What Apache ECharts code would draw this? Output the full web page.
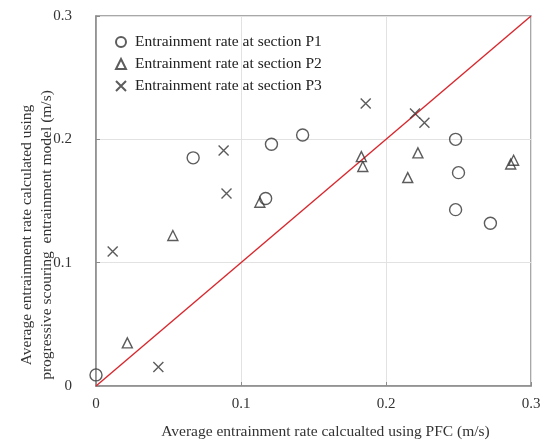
<!DOCTYPE html>
<html>
<head>
<meta charset="utf-8">
<script src="https://cdn.jsdelivr.net/npm/echarts@6/dist/echarts.min.js"></script>
<style>
  html, body { margin: 0; padding: 0; background: #fff; }
  #chart { width: 544px; height: 442px; }
</style>
</head>
<body>
<div id="chart"></div>
<script>
// Entrainment rate: PFC (x) vs progressive scouring model (y), m/s
const seriesNames = [
  'Entrainment rate at section P1',
  'Entrainment rate at section P2',
  'Entrainment rate at section P3'
];
const p1 = [
  [0.000, 0.009], [0.067, 0.185], [0.121, 0.196], [0.1425, 0.2035], [0.117, 0.152],
  [0.248, 0.200], [0.250, 0.173], [0.248, 0.143], [0.272, 0.132]
];
const p2 = [
  [0.0216, 0.035], [0.053, 0.122], [0.113, 0.149], [0.183, 0.186], [0.184, 0.178],
  [0.222, 0.189], [0.215, 0.169], [0.288, 0.183], [0.286, 0.180]
];
const p3 = [
  [0.043, 0.0155], [0.0115, 0.109], [0.088, 0.191], [0.090, 0.156],
  [0.186, 0.229], [0.220, 0.221], [0.2265, 0.2135]
];
const equalityLine = [[0, 0], [0.3, 0.3]];
const tickValues = [0, 0.1, 0.2, 0.3];

const serif = '"Liberation Serif", "Times New Roman", serif';
const ink = '#333';
const frame = '#8c8c8c';

const chart = echarts.init(document.getElementById('chart'), null, { renderer: 'canvas' });

const axisCommon = {
  type: 'value',
  min: tickValues[0],
  max: tickValues[tickValues.length - 1],
  interval: 0.1,
  axisLine: { show: true, lineStyle: { color: frame, width: 1.5 } },
  axisTick: { show: true, inside: true, length: 4, lineStyle: { color: frame } },
  splitLine: { show: true, lineStyle: { color: '#e2e2e2', width: 1 } },
  axisLabel: {
    color: '#333', fontFamily: serif, fontSize: 15,
    formatter: v => (v === 0 ? '0' : String(Math.round(v * 10) / 10))
  }
};

const hollow = { color: 'transparent', borderColor: ink, borderWidth: 1.4 };

chart.setOption({
  animation: false,
  backgroundColor: '#fff',
  grid: {
    left: 96, right: 13, top: 16, bottom: 56,
    containLabel: false, outerBoundsMode: 'none',
    show: true, borderColor: frame, borderWidth: 1.5
  },
  legend: {
    data: seriesNames,
    orient: 'vertical',
    left: 110,
    top: 29,
    itemGap: 6,
    itemWidth: 10,
    itemHeight: 10,
    textStyle: { color: '#222', fontFamily: serif, fontSize: 15.5, padding: [0, 0, 0, 4] }
  },
  xAxis: Object.assign({}, axisCommon, {
    name: 'Average entrainment rate calcualted using PFC (m/s)',
    nameLocation: 'middle',
    nameGap: 38,
    nameMoveOverlap: false,
    nameTextStyle: { color: '#333', fontFamily: serif, fontSize: 15.5, padding: [0, 0, 0, 24] },
    axisLabel: Object.assign({}, axisCommon.axisLabel, { margin: 11 })
  }),
  yAxis: Object.assign({}, axisCommon, {
    name: 'Average entrainment rate calculated using\nprogressive scouring  entrainment model (m/s)',
    nameLocation: 'middle',
    nameGap: 39,
    nameMoveOverlap: false,
    nameTextStyle: { color: '#333', fontFamily: serif, fontSize: 15.5, lineHeight: 20, padding: [0, 68, 0, 0] },
    axisLabel: Object.assign({}, axisCommon.axisLabel, { margin: 24 })
  }),
  series: [
    {
      name: 'equality',
      type: 'line',
      data: equalityLine,
      symbol: 'none',
      silent: true,
      lineStyle: { color: '#d7282e', width: 1.4 },
      z: 1
    },
    {
      name: seriesNames[0],
      type: 'scatter',
      data: p1,
      symbol: 'circle',
      symbolSize: 12,
      itemStyle: hollow,
      z: 3
    },
    {
      name: seriesNames[1],
      type: 'scatter',
      data: p2,
      symbol: 'triangle',
      symbolSize: 10,
      itemStyle: hollow,
      z: 3
    },
    {
      name: seriesNames[2],
      type: 'scatter',
      data: p3,
      symbol: 'path://M0,0L10,10M10,0L0,10',
      symbolSize: 10,
      itemStyle: { color: 'transparent', borderColor: ink, borderWidth: 1.4 },
      z: 3
    }
  ]
});
</script>
</body>
</html>
